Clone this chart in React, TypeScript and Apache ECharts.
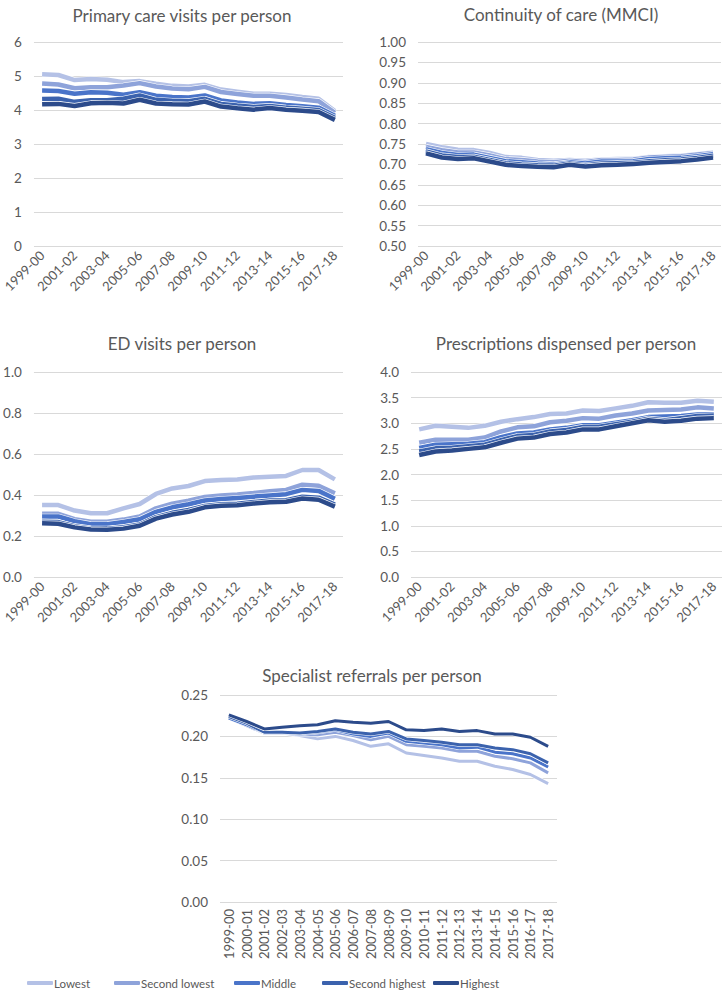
import React, { useEffect, useRef } from "react";
import * as echarts from "echarts";

const years = ["1999-00","2000-01","2001-02","2002-03","2003-04","2004-05","2005-06","2006-07","2007-08","2008-09","2009-10","2010-11","2011-12","2012-13","2013-14","2014-15","2015-16","2016-17","2017-18"];
const groups = ["Lowest","Second lowest","Middle","Second highest","Highest"];
const colors = ["#b4c1e6","#8ea3da","#4a74c9","#3b62ad","#2c4b8b"];

const primaryCare = [
  [5.05,5.03,4.88,4.91,4.89,4.82,4.85,4.77,4.71,4.69,4.74,4.60,4.54,4.48,4.48,4.44,4.38,4.33,3.97],
  [4.78,4.75,4.64,4.67,4.67,4.72,4.79,4.69,4.63,4.61,4.68,4.53,4.47,4.42,4.42,4.37,4.31,4.26,3.92],
  [4.57,4.56,4.48,4.52,4.51,4.45,4.52,4.42,4.38,4.37,4.43,4.28,4.22,4.18,4.20,4.15,4.11,4.07,3.83],
  [4.32,4.33,4.24,4.29,4.29,4.33,4.43,4.30,4.27,4.26,4.33,4.18,4.13,4.09,4.12,4.07,4.04,4.00,3.77],
  [4.17,4.18,4.12,4.20,4.21,4.19,4.30,4.19,4.17,4.16,4.25,4.10,4.05,4.01,4.06,4.01,3.98,3.94,3.71],
];
const continuity = [
  [0.750,0.742,0.736,0.735,0.728,0.718,0.716,0.711,0.709,0.711,0.709,0.712,0.713,0.713,0.718,0.720,0.721,0.725,0.729],
  [0.743,0.735,0.729,0.729,0.722,0.713,0.711,0.707,0.705,0.709,0.706,0.711,0.711,0.712,0.717,0.719,0.720,0.724,0.728],
  [0.737,0.728,0.723,0.724,0.716,0.708,0.705,0.702,0.700,0.705,0.702,0.707,0.707,0.708,0.713,0.715,0.716,0.720,0.725],
  [0.732,0.722,0.718,0.719,0.711,0.703,0.700,0.698,0.697,0.702,0.698,0.702,0.703,0.704,0.708,0.710,0.712,0.716,0.721],
  [0.727,0.717,0.713,0.715,0.707,0.699,0.696,0.694,0.693,0.699,0.695,0.698,0.699,0.701,0.704,0.706,0.708,0.712,0.717],
];
const edVisits = [
  [0.351,0.351,0.324,0.311,0.311,0.335,0.356,0.405,0.432,0.444,0.468,0.473,0.476,0.485,0.489,0.493,0.522,0.522,0.476],
  [0.308,0.308,0.282,0.270,0.270,0.280,0.295,0.335,0.358,0.372,0.390,0.397,0.403,0.410,0.418,0.425,0.450,0.445,0.408],
  [0.295,0.295,0.272,0.258,0.258,0.268,0.282,0.318,0.340,0.355,0.373,0.380,0.385,0.392,0.398,0.404,0.425,0.420,0.382],
  [0.270,0.268,0.248,0.237,0.236,0.243,0.256,0.292,0.313,0.327,0.347,0.355,0.357,0.366,0.373,0.375,0.392,0.387,0.353],
  [0.262,0.260,0.242,0.232,0.230,0.236,0.250,0.285,0.305,0.318,0.340,0.348,0.350,0.358,0.365,0.367,0.383,0.377,0.343],
];
const prescriptions = [
  [2.88,2.95,2.93,2.91,2.95,3.03,3.08,3.12,3.18,3.19,3.25,3.24,3.29,3.34,3.41,3.40,3.40,3.44,3.42],
  [2.62,2.68,2.68,2.68,2.72,2.84,2.92,2.94,3.02,3.05,3.10,3.09,3.15,3.19,3.25,3.26,3.27,3.31,3.29],
  [2.52,2.58,2.59,2.60,2.63,2.73,2.80,2.82,2.88,2.91,2.96,2.96,3.01,3.06,3.12,3.13,3.14,3.17,3.17],
  [2.45,2.51,2.52,2.55,2.58,2.67,2.75,2.77,2.84,2.87,2.93,2.93,2.98,3.03,3.09,3.06,3.10,3.14,3.15],
  [2.38,2.45,2.47,2.50,2.53,2.62,2.70,2.72,2.79,2.82,2.88,2.88,2.94,3.00,3.06,3.03,3.05,3.09,3.10],
];
const referrals = [
  [0.222,0.213,0.204,0.204,0.201,0.197,0.200,0.195,0.188,0.191,0.180,0.177,0.174,0.170,0.170,0.164,0.160,0.154,0.143],
  [0.222,0.213,0.204,0.204,0.202,0.202,0.205,0.201,0.196,0.200,0.190,0.188,0.186,0.182,0.182,0.176,0.173,0.168,0.156],
  [0.222,0.214,0.205,0.205,0.203,0.205,0.208,0.203,0.200,0.204,0.194,0.192,0.190,0.186,0.187,0.181,0.179,0.174,0.163],
  [0.224,0.216,0.205,0.205,0.204,0.206,0.209,0.205,0.203,0.206,0.197,0.195,0.193,0.190,0.190,0.186,0.184,0.179,0.168],
  [0.226,0.218,0.209,0.211,0.213,0.214,0.219,0.217,0.216,0.218,0.208,0.207,0.209,0.206,0.207,0.203,0.203,0.199,0.188],
];

const titles = ["Primary care visits per person","Continuity of care (MMCI)","ED visits per person","Prescriptions dispensed per person","Specialist referrals per person"];
const panelData = [primaryCare, continuity, edVisits, prescriptions, referrals];

const FONT = "Lato, 'Open Sans', sans-serif";
const TXT = "#595959";

export default function App() {
  const ref = useRef<HTMLDivElement>(null);
  useEffect(() => {
    if (!ref.current) return;
    const chart = echarts.init(ref.current, undefined, { renderer: "svg" });

    const grids = [
      { left: 33, width: 310, top: 42, height: 204 },
      { left: 418, width: 303, top: 42, height: 204 },
      { left: 32, width: 311, top: 372, height: 205 },
      { left: 411, width: 311, top: 372, height: 205 },
      { left: 220, width: 337, top: 695, height: 207 },
    ];
    const yCfg = [
      { min: 0, max: 6, interval: 1, dec: 0 },
      { min: 0.5, max: 1, interval: 0.05, dec: 2 },
      { min: 0, max: 1, interval: 0.2, dec: 1 },
      { min: 0, max: 4, interval: 0.5, dec: 1 },
      { min: 0, max: 0.25, interval: 0.05, dec: 2 },
    ];
    const titlePos = [
      { x: 177, y: 2 },
      { x: 556, y: 1 },
      { x: 177, y: 330 },
      { x: 561, y: 330 },
      { x: 367, y: 662 },
    ];

    const series: any[] = [];
    panelData.forEach((pd, p) => {
      const lw = p === 4 ? 3 : 4.5;
      pd.forEach((vals, i) => {
        series.push({
          type: "line",
          name: "_bg" + groups[i],
          xAxisIndex: p,
          yAxisIndex: p,
          data: vals,
          showSymbol: false,
          silent: true,
          lineStyle: { color: "#ffffff", width: lw + 1.2 },
        });
        series.push({
          type: "line",
          name: groups[i],
          xAxisIndex: p,
          yAxisIndex: p,
          data: vals,
          showSymbol: false,
          lineStyle: { color: colors[i], width: lw },
          itemStyle: { color: colors[i] },
        });
      });
    });

    const legendX = [22, 109, 229, 317, 428];

    chart.setOption({
      animation: false,
      backgroundColor: "#ffffff",
      textStyle: { fontFamily: FONT },
      title: titles.map((t, i) => ({
        text: t,
        left: titlePos[i].x,
        top: titlePos[i].y,
        textAlign: "center",
        textStyle: { fontFamily: FONT, fontSize: 17, fontWeight: "normal", color: TXT },
      })),
      legend: groups.map((g, i) => ({
        data: [g],
        left: legendX[i],
        top: 972,
        icon: "roundRect",
        itemWidth: 26,
        itemHeight: 4,
        itemGap: 0,
        textStyle: { fontFamily: FONT, fontSize: 11.5, color: TXT, padding: [0, 0, 0, -4] },
      })),
      grid: grids.map((g) => ({ ...g, containLabel: false })),
      xAxis: grids.map((_, i) => ({
        type: "category",
        gridIndex: i,
        data: years,
        boundaryGap: true,
        axisLine: { show: false },
        axisTick: { show: false },
        axisLabel: {
          interval: i === 4 ? 0 : 1,
          rotate: i === 4 ? 90 : 45,
          fontSize: 13,
          color: TXT,
          fontFamily: FONT,
          margin: 7,
        },
      })),
      yAxis: yCfg.map((c, i) => ({
        type: "value",
        gridIndex: i,
        min: c.min,
        max: c.max,
        interval: c.interval,
        axisLine: { show: false },
        axisTick: { show: false },
        splitLine: { lineStyle: { color: "#d9d9d9", width: 1 } },
        axisLabel: {
          fontSize: 13.5,
          color: TXT,
          fontFamily: FONT,
          margin: 12,
          formatter: (v: number) => v.toFixed(c.dec),
        },
      })),
      series,
    });

    return () => chart.dispose();
  }, []);

  return (
    <div
      ref={ref}
      style={{ position: "fixed", left: 0, top: 0, width: 726, height: 993, background: "#fff" }}
    />
  );
}
